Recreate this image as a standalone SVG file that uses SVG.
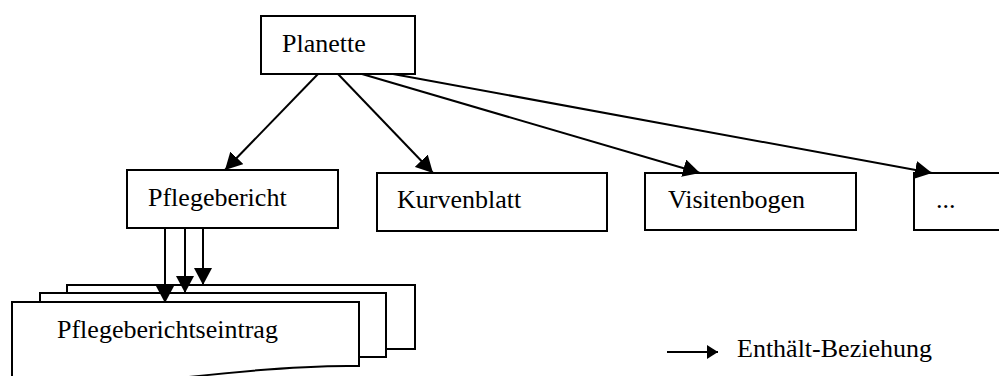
<svg xmlns="http://www.w3.org/2000/svg" width="999" height="376" viewBox="0 0 999 376">
  <style>
    .box { fill: #fff; stroke: #000; stroke-width: 2; }
    .lbl { font-family: "Liberation Serif", "Times New Roman", serif; font-size: 26px; fill: #000; }
    .link { stroke: #000; stroke-width: 2; fill: none; }
    .arr { marker-end: url(#head); }
  </style>
  <defs>
    <marker id="head" markerUnits="userSpaceOnUse" markerWidth="17" markerHeight="18" viewBox="0 0 17 18" refX="17" refY="9" orient="auto">
      <path d="M0,0 L17,9 L0,18 Z" fill="#000"/>
    </marker>
    <marker id="headSmall" markerUnits="userSpaceOnUse" markerWidth="11" markerHeight="14" viewBox="0 0 11 14" refX="11" refY="7" orient="auto">
      <path d="M0,0 L11,7 L0,14 Z" fill="#000"/>
    </marker>
  </defs>

  <rect width="999" height="376" fill="#fff"/>

  <!-- root node -->
  <g id="planette">
    <rect class="box" x="261" y="16" width="154" height="58"/>
    <text class="lbl" x="282" y="52">Planette</text>
  </g>

  <!-- child modules -->
  <g id="pflegebericht">
    <rect class="box" x="127" y="170" width="211" height="58"/>
    <text class="lbl" x="148" y="206">Pflegebericht</text>
  </g>
  <g id="kurvenblatt">
    <rect class="box" x="377" y="173" width="230" height="58"/>
    <text class="lbl" x="397" y="208">Kurvenblatt</text>
  </g>
  <g id="visitenbogen">
    <rect class="box" x="645" y="173" width="211" height="57"/>
    <text class="lbl" x="668" y="208">Visitenbogen</text>
  </g>
  <g id="weitere">
    <rect class="box" x="914" y="173" width="100" height="57"/>
    <text class="lbl" x="936" y="208">...</text>
  </g>

  <!-- stacked entries (multi-document) -->
  <g id="pflegeberichtseintrag">
    <rect class="box" x="67" y="285" width="348" height="64"/>
    <rect class="box" x="40" y="293" width="346" height="64"/>
    <path class="box" d="M12,302 H359 V366 C310,365 250,370 180,378 L12,392 Z"/>
    <text class="lbl" x="57" y="338">Pflegeberichtseintrag</text>
  </g>

  <!-- containment relations -->
  <g id="connectors">
    <line class="link arr" x1="318" y1="74" x2="225" y2="170"/>
    <line class="link arr" x1="338" y1="74" x2="433" y2="173"/>
    <line class="link arr" x1="362" y1="74" x2="700" y2="173"/>
    <line class="link arr" x1="393" y1="74" x2="932" y2="173"/>
    <line class="link arr" x1="165" y1="228" x2="165" y2="303"/>
    <line class="link arr" x1="185" y1="228" x2="185" y2="293"/>
    <line class="link arr" x1="203" y1="228" x2="203" y2="285"/>
  </g>

  <!-- legend -->
  <g id="legende">
    <line class="link" x1="667" y1="352" x2="718" y2="352" marker-end="url(#headSmall)"/>
    <text class="lbl" x="737" y="357">Enthält-Beziehung</text>
  </g>
</svg>
